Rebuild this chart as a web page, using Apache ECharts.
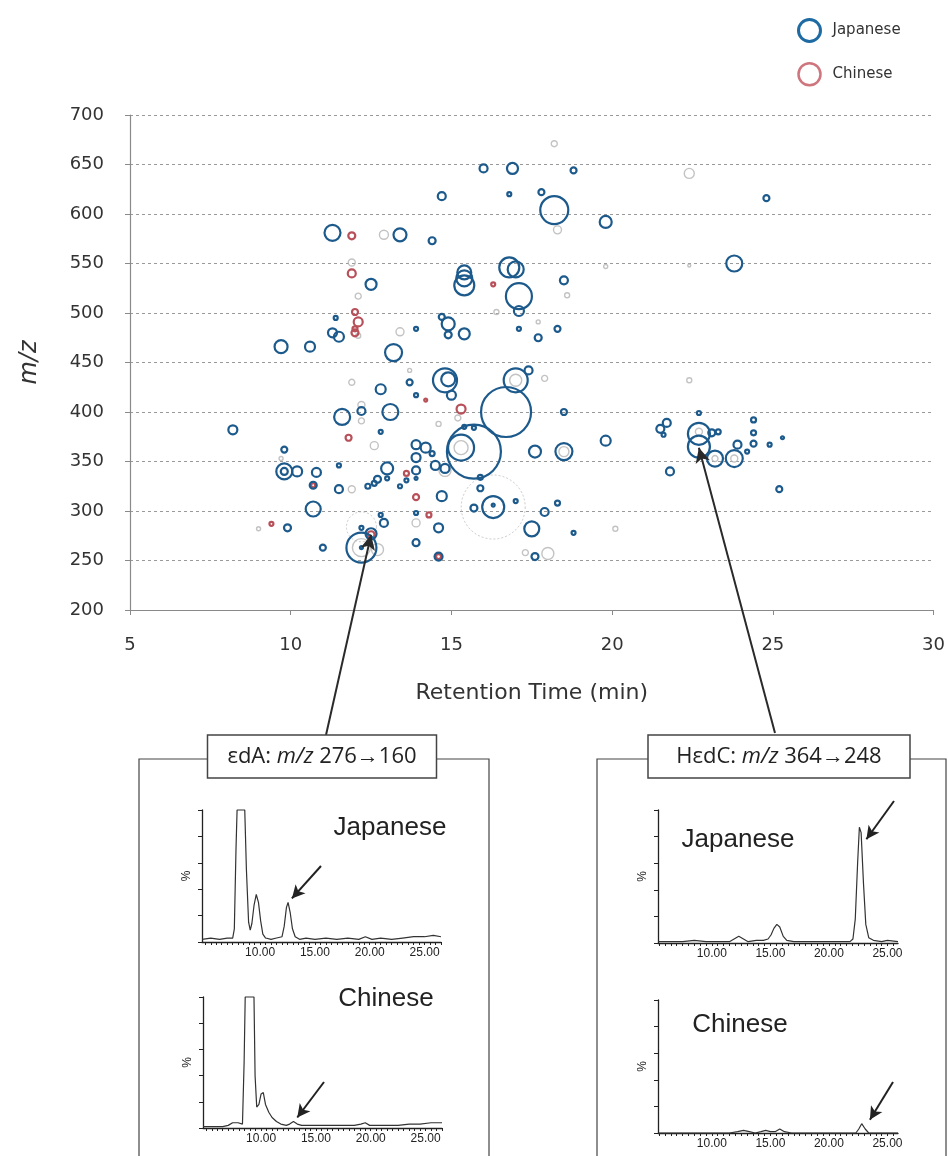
<!DOCTYPE html>
<html><head><meta charset="utf-8">
<script src="https://cdn.jsdelivr.net/npm/echarts@6/dist/echarts.min.js"></script>
<style>html,body{margin:0;padding:0;background:#fff}#c{width:948px;height:1156px}</style>
</head><body><div id="c"></div>
<script>
// ---------- main bubble chart data: [retention time (min), m/z, bubble diameter] ----------
const japanese = [
 [16.0,646,8],[16.9,646,11],[18.8,644,6],[14.7,618,8],[16.8,620,4],[17.8,622,6],[18.2,604,28],[19.8,592,12],
 [24.8,616,6],[11.3,581,16],[13.4,579,13],[14.4,573,7],[15.4,541,14],[15.4,535,16],[15.4,528,20],[16.8,546,20],
 [17.0,544,16],[23.8,550,16],[12.5,529,11],[18.5,533,8],[17.1,517,26],[17.1,502,10],[11.4,495,4],[11.3,480,9],
 [11.5,476,10],[14.7,496,6],[14.9,489,13],[14.9,478,7],[15.4,479,11],[17.1,484,4],[18.3,484,6],[17.7,475,7],
 [13.9,484,4],[9.7,466,13],[10.6,466,10],[13.2,460,17],[14.8,432,24],[14.9,433,14],[15.0,417,9],[17.0,432,24],
 [17.4,442,8],[12.8,423,10],[13.7,430,6],[13.9,417,4],[16.7,400,50],[15.7,360,54],[15.3,364,26],[11.6,395,16],
 [12.2,401,8],[13.1,400,16],[8.2,382,9],[9.8,362,6],[9.8,340,16],[9.8,340,7],[10.2,340,10],[10.8,339,9],
 [10.7,326,7],[12.8,380,4],[11.5,346,4],[11.5,322,8],[12.4,325,5],[12.6,328,5],[12.7,332,7],[13.0,333,4],
 [13.0,343,12],[13.4,325,4],[13.6,331,4],[13.9,367,9],[14.2,364,10],[14.4,358,5],[13.9,354,9],[13.9,341,8],
 [13.9,333,3],[14.5,346,9],[14.8,343,9],[15.4,385,4],[15.7,384,4],[15.9,334,5],[15.9,323,6],[16.3,304,22],
 [16.3,306,3],[15.7,303,7],[17.0,310,4],[17.9,299,8],[18.3,308,5],[17.5,282,15],[17.6,254,7],[18.8,278,4],
 [17.6,360,12],[18.5,360,17],[18.5,400,6],[14.7,315,10],[13.9,298,4],[14.6,283,9],[13.9,268,7],[14.6,254,8],
 [12.9,288,8],[12.8,296,4],[12.2,283,4],[12.2,263,30],[12.2,263,3],[11.0,263,6],[10.7,302,15],[9.9,283,7],
 [12.5,277,11],[22.7,399,4],[21.7,389,8],[21.5,383,8],[21.6,377,4],[22.7,378,22],[22.7,365,22],[23.1,379,7],
 [23.3,380,5],[19.8,371,10],[23.2,353,16],[23.8,353,17],[23.9,367,8],[24.2,360,4],[24.4,392,5],[24.4,379,5],
 [24.4,368,6],[24.9,367,4],[25.3,374,3],[25.2,322,6],[21.8,340,8]
];
const chinese = [
 [11.9,578,7],[11.9,540,8],[12.0,501,6],[12.0,480,7],[16.3,529,4],[11.8,374,6],[15.3,403,9],[14.2,412,3],
 [13.6,338,5],[14.3,296,5],[13.9,314,6],[9.4,287,4],[10.7,326,4],[12.5,276,7],[14.6,254,5],[12.1,491,9],[12.0,484,5]
];
const chineseFaint = [
 [18.2,671,6],[22.4,641,10],[12.9,579,9],[11.9,551,7],[12.1,517,6],[16.4,501,5],[18.3,584,8],[19.8,547,4],
 [22.4,548,3],[18.6,518,5],[17.7,491,4],[13.4,481,8],[12.1,477,5],[11.9,430,6],[17.9,434,6],[17.0,432,12],
 [15.2,394,6],[14.6,388,5],[12.2,407,7],[12.2,391,6],[12.6,366,8],[11.9,322,7],[9.7,353,4],[9.0,282,4],
 [12.7,261,12],[12.2,263,18],[13.9,288,8],[17.3,258,6],[18.0,257,12],[20.1,282,5],[22.4,432,5],[15.3,364,14],
 [14.8,341,12],[18.5,360,10],[23.2,353,6],[23.8,353,7],[22.7,380,7],[13.7,442,4]
];
const chineseFaintLarge = [[16.3,304,64],[12.2,284,30]];

// arrow targets in the main chart (compound: [time, m/z])
const edA = [12.5, 276];
const hedC = [22.7, 364];

// ---------- axis ticks ----------
const xTicks = [5,10,15,20,25,30];
const yTicks = [200,250,300,350,400,450,500,550,600,650,700];
const insetLabels = [10,15,20,25];

// ---------- chromatogram traces: [time (min), % intensity] ----------
const edAJapanese = [
 [4.7,2],[5.5,3],[6.3,2],[7.0,3],[7.5,3],[7.65,10],[7.8,70],[7.9,100],[8.6,100],[8.75,55],[8.95,15],[9.1,9],
 [9.25,14],[9.45,28],[9.65,36],[9.85,30],[10.05,16],[10.25,6],[10.5,3],[11.0,2],[11.5,3],[12.0,4],[12.2,12],
 [12.4,26],[12.55,30],[12.75,22],[12.95,10],[13.2,4],[13.6,2],[14.2,3],[15.0,2],[16.0,3],[17.0,2],[18.0,3],
 [19.0,2],[19.6,4],[20.2,2],[21.0,3],[22.0,2],[23.0,3],[24.0,4],[25.0,4],[25.8,5],[26.5,4]
];
const edAChinese = [
 [4.7,1],[5.5,1],[6.5,1],[7.0,2],[7.4,4],[7.9,4],[8.3,3],[8.45,50],[8.55,100],[9.35,100],[9.45,40],[9.6,16],
 [9.8,18],[10.0,26],[10.2,27],[10.4,18],[10.7,12],[11.0,8],[11.4,5],[11.8,3],[12.3,2],[12.6,3],[12.95,5],[13.3,3],
 [13.7,2],[14.5,2],[15.5,2],[16.5,2],[17.5,2],[18.5,2],[19.1,3],[19.5,4],[19.9,2],[20.5,2],[21.5,2],[22.5,2],
 [23.5,3],[24.5,3],[25.5,4],[26.5,4]
];
const hedCJapanese = [
 [5.4,1],[6.5,1],[7.5,1],[8.5,2],[9.5,1],[10.5,1],[11.5,1],[11.9,3],[12.3,5],[12.7,3],[13.1,1],[13.8,2],[14.4,2],
 [14.8,3],[15.05,6],[15.3,11],[15.55,14],[15.8,12],[16.1,5],[16.4,2],[17.0,1],[18.0,1],[19.0,1],[20.0,1],[21.0,1],
 [21.8,1],[22.05,3],[22.25,18],[22.45,60],[22.6,87],[22.75,83],[22.95,45],[23.15,14],[23.4,4],[23.8,2],[24.5,1],
 [25.0,2],[25.9,1]
];
const hedCChinese = [
 [5.4,0],[6.5,0],[7.5,0],[8.5,0],[9.5,0],[10.5,0],[11.5,0],[12.2,1],[12.7,2],[13.2,1],[13.7,0],[14.2,1],[14.6,2],
 [15.0,1],[15.4,1],[15.8,3],[16.2,1],[16.8,0],[17.5,0],[18.5,0],[19.5,0],[20.5,0],[21.5,0],[22.3,0],[22.55,3],
 [22.8,7],[23.1,3],[23.4,0],[24.0,0],[25.0,0],[25.9,0]
];
// peaks pointed at by the little arrows in the insets
const peakEdAJ = [12.9, 33], peakEdAC = [13.3, 8], peakHedCJ = [23.2, 78], peakHedCC = [23.5, 10];

// ---------- styling ----------
const BLUE = '#1d5a8c', RED = '#b8505a', GREY = '#b4b4b4';
const FONT = 'DejaVu Sans';
const INK = '#222';

function minorTicks(lo, hi, step){ const a=[]; for(let v=Math.ceil(lo/step)*step; v<=hi+1e-9; v+=step) a.push(+v.toFixed(3)); return a; }

const insets = [
 {grid:{left:202, top:810, width:239, height:132}, xr:[4.7,26.5], data:edAJapanese, peak:peakEdAJ, from:{x:321,y:866}},
 {grid:{left:203, top:997, width:239, height:131}, xr:[4.7,26.5], data:edAChinese, peak:peakEdAC, from:{x:324,y:1082}},
 {grid:{left:658, top:810, width:240, height:133}, xr:[5.4,25.9], data:hedCJapanese, peak:peakHedCJ, from:{x:894,y:801}},
 {grid:{left:658, top:1000, width:240, height:133}, xr:[5.4,25.9], data:hedCChinese, peak:peakHedCC, from:{x:893,y:1082}}
];

const grids = [{left:130, right:10, top:115, height:495}];
const xAxes = [{
  type:'value', min:5, max:30, interval:5, gridIndex:0,
  name:'Retention Time (min)', nameLocation:'middle', nameGap:72,
  nameTextStyle:{fontFamily:FONT, fontSize:22, color:'#333'},
  axisLine:{lineStyle:{color:'#8a8a8a', width:1.2}},
  axisTick:{show:true, length:5, lineStyle:{color:'#8a8a8a'}},
  axisLabel:{fontFamily:FONT, fontSize:18, color:'#333', margin:26},
  splitLine:{show:false}
}];
const yAxes = [{
  type:'value', min:200, max:700, interval:50, gridIndex:0,
  name:'m/z', nameLocation:'middle', nameGap:88, nameRotate:90,
  nameTextStyle:{fontFamily:FONT, fontSize:24, fontStyle:'italic', color:'#333'},
  axisLine:{show:true, lineStyle:{color:'#8a8a8a', width:1.2}},
  axisTick:{show:true, length:5, lineStyle:{color:'#8a8a8a'}},
  axisLabel:{fontFamily:FONT, fontSize:18, color:'#333', margin:26},
  splitLine:{show:true, lineStyle:{color:'#9a9a9a', type:[3,3], width:1}}
}];
const series = [];

function bubble(name, data, color, extra){
  return Object.assign({
    name, type:'scatter', data, xAxisIndex:0, yAxisIndex:0, clip:false,
    symbol:'circle', symbolSize:d=>d[2],
    itemStyle:{color:'rgba(255,255,255,0)', borderColor:color, borderWidth:2.2, opacity:1},
    emphasis:{disabled:true}, silent:true
  }, extra||{});
}
series.push(bubble('Chinese', chineseFaintLarge, '#bdbdbd', {itemStyle:{color:'rgba(255,255,255,0)', borderColor:'#bdbdbd', borderWidth:1, borderType:[2,2]}}));
series.push(bubble('Chinese', chineseFaint, GREY, {itemStyle:{color:'rgba(255,255,255,0)', borderColor:GREY, borderWidth:1.4}}));
series.push(bubble('Chinese', chinese, RED));
series.push(bubble('Japanese', japanese, BLUE, {
  markLine:{
    silent:true, symbol:['none','arrow'], symbolSize:[11,15], animation:false,
    label:{show:false}, emphasis:{disabled:true},
    lineStyle:{color:'#2a2a2a', width:2, type:'solid'},
    data:[
      [{x:326, y:735}, {coord:edA}],
      [{x:775, y:733}, {coord:hedC}]
    ]
  }
}));

insets.forEach((ins, i) => {
  const gi = i + 1;
  grids.push(ins.grid);
  xAxes.push({
    type:'value', gridIndex:gi, min:ins.xr[0], max:ins.xr[1],
    axisLine:{lineStyle:{color:INK, width:1.3}},
    axisTick:{show:true, customValues:minorTicks(ins.xr[0], ins.xr[1], 0.5), length:3, lineStyle:{color:INK, width:1}},
    axisLabel:{customValues:insetLabels, formatter:v=>v.toFixed(2), fontFamily:'Liberation Sans', fontSize:12, color:INK, margin:5},
    splitLine:{show:false}
  });
  yAxes.push({
    type:'value', gridIndex:gi, min:0, max:100, interval:20,
    name:'%', nameLocation:'middle', nameGap:9, nameRotate:90,
    nameTextStyle:{fontFamily:'Liberation Sans', fontSize:12, color:INK},
    axisLine:{show:true, lineStyle:{color:INK, width:1.3}},
    axisTick:{show:true, length:4, lineStyle:{color:INK}},
    axisLabel:{show:false}, splitLine:{show:false}
  });
  series.push({
    type:'line', xAxisIndex:gi, yAxisIndex:gi, data:ins.data, symbol:'none', silent:true,
    lineStyle:{color:'#333', width:1.2}, clip:false,
    markLine:{
      silent:true, symbol:['none','arrow'], symbolSize:[10,13], animation:false,
      label:{show:false}, emphasis:{disabled:true},
      lineStyle:{color:'#222', width:2, type:'solid'},
      data:[[ins.from, {coord:ins.peak}]]
    }
  });
});

function titleBox(cx, w, parts){
  return [
    {type:'rect', shape:{x:cx - w/2, y:735, width:w, height:43}, style:{fill:'#fff', stroke:'#444', lineWidth:1.5}, z:10},
    {type:'text', x:cx, y:757, z:11, style:{
      text:'{a|'+parts[0]+'}{i|m/z}{a|'+parts[1]+'}', align:'center', verticalAlign:'middle',
      rich:{a:{fontFamily:'Open Sans', fontSize:22, fill:'#222'}, i:{fontFamily:'Open Sans', fontSize:22, fontStyle:'italic', fill:'#222'}}
    }}
  ];
}
function label(x, y, t){ return {type:'text', x, y, z:11, style:{text:t, fontFamily:'Liberation Sans', fontSize:26, fill:'#222', align:'center', verticalAlign:'middle'}}; }

const graphics = [
  {type:'rect', shape:{x:139, y:759, width:350, height:420}, style:{fill:'none', stroke:'#444', lineWidth:1.2}, z:5},
  {type:'rect', shape:{x:597, y:759, width:349, height:420}, style:{fill:'none', stroke:'#444', lineWidth:1.2}, z:5},
  ...titleBox(322, 229, ['εdA: ', ' 276→160']),
  ...titleBox(779, 262, ['HεdC: ', ' 364→248']),
  label(390, 828, 'Japanese'), label(386, 999, 'Chinese'),
  label(738, 840, 'Japanese'), label(740, 1025, 'Chinese')
];

const chart = echarts.init(document.getElementById('c'), null, {renderer:'canvas'});
chart.setOption({
  animation:false,
  backgroundColor:'#fff',
  legend:{
    orient:'vertical', left:792, top:13, itemWidth:22, itemHeight:22, itemGap:19,
    textStyle:{fontFamily:FONT, fontSize:15, color:'#333', padding:[0,0,0,7]},
    data:[
      {name:'Japanese', icon:'circle', itemStyle:{color:'#fff', borderColor:'#1e6aa3', borderWidth:3}},
      {name:'Chinese', icon:'circle', itemStyle:{color:'#fff', borderColor:'#c2535e', borderWidth:2.5}}
    ],
    selectedMode:false
  },
  grid:grids, xAxis:xAxes, yAxis:yAxes, series, graphic:graphics
});
</script></body></html>
